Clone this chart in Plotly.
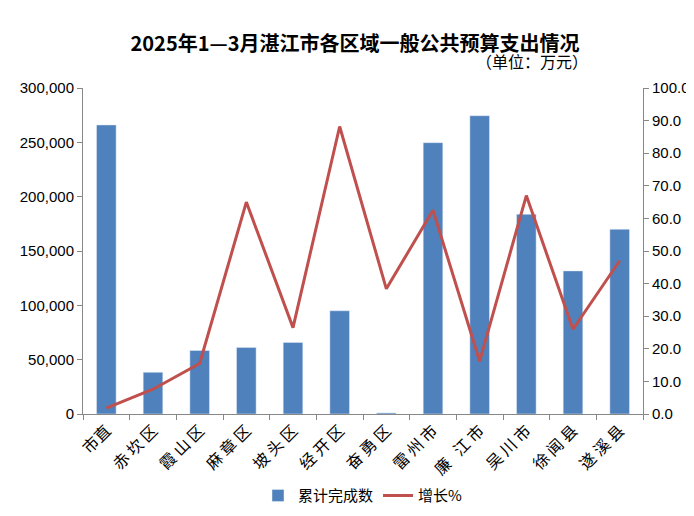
import plotly.graph_objects as go

categories = ["市直", "赤 坎 区", "霞 山 区", "麻 章 区", "坡 头 区", "经 开 区", "奋 勇 区", "雷 州 市", "廉   江 市", "吴 川 市", "徐 闻 县", "遂 溪 县"]
cumulative = [266000, 38400, 58500, 61300, 65900, 95000, 1000, 249700, 274500, 183800, 131700, 170000]
growth = [1.8, 7.6, 15.5, 65.0, 26.5, 88.2, 38.4, 62.5, 16.2, 67.0, 26.0, 47.0]

fig = go.Figure()
fig.add_trace(go.Bar(x=categories, y=cumulative, name="累计完成数", marker_color="#4F81BD", width=0.42))
fig.add_trace(go.Scatter(x=categories, y=growth, name="增长%", yaxis="y2", mode="lines",
                         line=dict(color="#C0504D", width=3)))

font = "Noto Sans CJK SC"
fig.update_layout(
    width=694, height=516, paper_bgcolor="white", plot_bgcolor="white",
    font=dict(family=font, size=13, color="black"),
    title=dict(text="<b>2025年1—3月湛江市各区域一般公共预算支出情况</b>", x=0.5, y=0.93, xanchor="center",
               yanchor="middle", font=dict(size=20, family=font)),
    annotations=[dict(text="（单位：万元）", x=0.905, y=1.04, xref="paper", yref="paper", showarrow=False,
                      xanchor="right", yanchor="bottom", font=dict(size=16, family=font))],
    margin=dict(l=72, r=57, t=80, b=108),
    xaxis=dict(tickangle=-45, showline=True, linecolor="#888", ticks="outside", tickson="boundaries",
               ticklen=5, tickcolor="#888", tickfont=dict(size=16)),
    yaxis=dict(range=[0, 300000], dtick=50000, tickformat=",", showline=True, linecolor="#888",
               ticks="outside", tickcolor="#888", showgrid=False, tickfont=dict(size=15, family="Liberation Sans")),
    yaxis2=dict(range=[0, 100], dtick=10, tickformat=".1f", overlaying="y", side="right", showline=True,
                linecolor="#888", ticks="outside", tickcolor="#888", showgrid=False,
                tickfont=dict(size=15, family="Liberation Sans")),
    legend=dict(orientation="h", x=0.5, xanchor="center", y=-0.2, yanchor="top", font=dict(size=15)),
)
fig.write_html("out.html")
